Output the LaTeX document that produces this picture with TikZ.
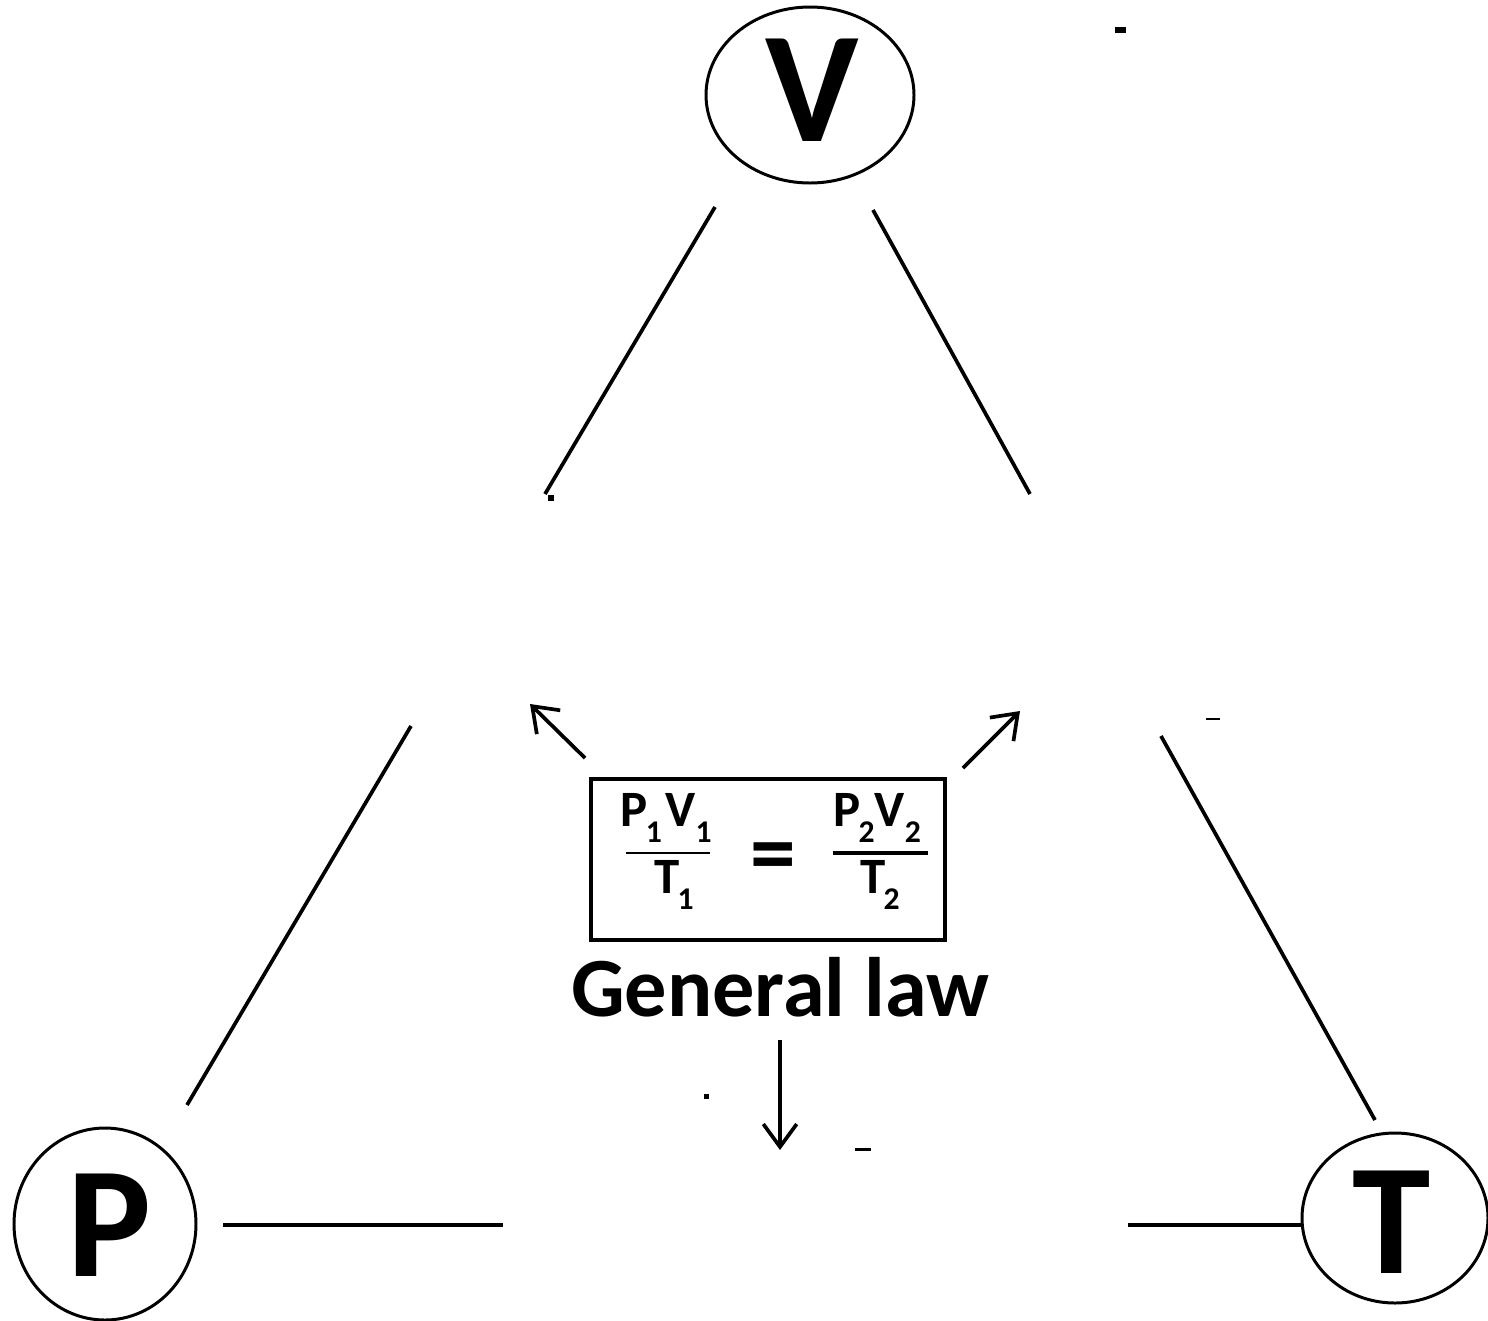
\documentclass[tikz,border=0pt]{standalone}
\usepackage{fontspec}
\setmainfont{Carlito}
\usetikzlibrary{shapes.geometric,arrows.meta}
\newcommand{\sbs}[1]{\raisebox{-0.3em}{\fontsize{18}{18}\selectfont #1}}
\begin{document}
\begin{tikzpicture}[x=0.02cm,y=-0.02cm,
  ln/.style={line width=2.1pt},
  vtx/.style={ellipse,draw,line width=1.7pt,inner sep=0pt},
  big/.style={font=\fontsize{90}{90}\selectfont\bfseries,inner sep=0pt},
  frm/.style={font=\fontsize{29}{29}\selectfont\bfseries,inner sep=0pt},
  arr/.style={line width=2.1pt,-{Straight Barb[length=13pt,width=19pt,line width=2.1pt]}},
  speck/.style={fill=black,draw=none}]
\useasboundingbox (0,0) rectangle (1488,1320);
% vertices
\node[vtx,minimum width=208*0.02cm,minimum height=176*0.02cm] (Vc) at (810,95) {};
\node[big] (V) at (812,90) {V};
\node[vtx,minimum width=182*0.02cm,minimum height=192*0.02cm] (Pc) at (105,1224) {};
\node[big] (P) at (110,1225) {P};
\node[vtx,minimum width=186*0.02cm,minimum height=170*0.02cm] (Tc) at (1395,1218) {};
\node[big] (T) at (1392,1222) {T};
% edge ends
\coordinate (a1) at (715,207); \coordinate (a2) at (545,494);
\coordinate (b1) at (873,210); \coordinate (b2) at (1030,494);
\coordinate (c1) at (187,1105); \coordinate (c2) at (411,726);
\coordinate (d1) at (1161,736); \coordinate (d2) at (1375,1120);
\coordinate (e1) at (223,1225); \coordinate (e2) at (503,1225);
\coordinate (f1) at (1128,1225); \coordinate (f2) at (1302,1225);
\draw[ln] (a1) -- (a2);
\draw[ln] (b1) -- (b2);
\draw[ln] (c1) -- (c2);
\draw[ln] (d1) -- (d2);
\draw[ln] (e1) -- (e2);
\draw[ln] (f1) -- (f2);
% formula box
\node[draw,line width=2pt,minimum width=354*0.02cm,minimum height=161*0.02cm,inner sep=0pt] (box) at (768,859.5) {};
\node[frm] (n1) at (666,818) {P\kern-1pt\sbs{1}\kern2pt V\sbs{1}};
\node[frm] (d1t) at (674,885) {T\kern-1pt\sbs{1}};
\node[frm] (n2) at (877,818) {P\kern-1pt\sbs{2}V\sbs{2}};
\node[frm] (d2t) at (880,885) {T\kern-1pt\sbs{2}};
\coordinate (bl1) at (626,853); \coordinate (bl2) at (710,853);
\coordinate (br1) at (833,853); \coordinate (br2) at (928,853);
\draw[line width=1.3pt] (bl1) -- (bl2);
\draw[line width=2.3pt] (br1) -- (br2);
\node[font=\fontsize{52}{52}\selectfont\bfseries,inner sep=0pt] (eq) at (773,863) {=};
\node[font=\fontsize{48}{48}\selectfont\bfseries,inner sep=0pt] (gl) at (780,987) {General law};
% arrows
\coordinate (u1) at (585,758); \coordinate (u2) at (530,704);
\coordinate (r1) at (963,768); \coordinate (r2) at (1020,711);
\coordinate (w1) at (780,1040); \coordinate (w2) at (780,1150);
\draw[arr] (u1) -- (u2);
\draw[arr] (r1) -- (r2);
\draw[arr] (w1) -- (w2);
% specks
\fill[speck] (1115,27) rectangle (1126,33);
\fill[speck] (548,495) rectangle (554,501);
\fill[speck] (704,1094) rectangle (709,1099);
\fill[speck] (855,1148) rectangle (871,1151);
\fill[speck] (1206,718) rectangle (1220,720);
\end{tikzpicture}
\end{document}
